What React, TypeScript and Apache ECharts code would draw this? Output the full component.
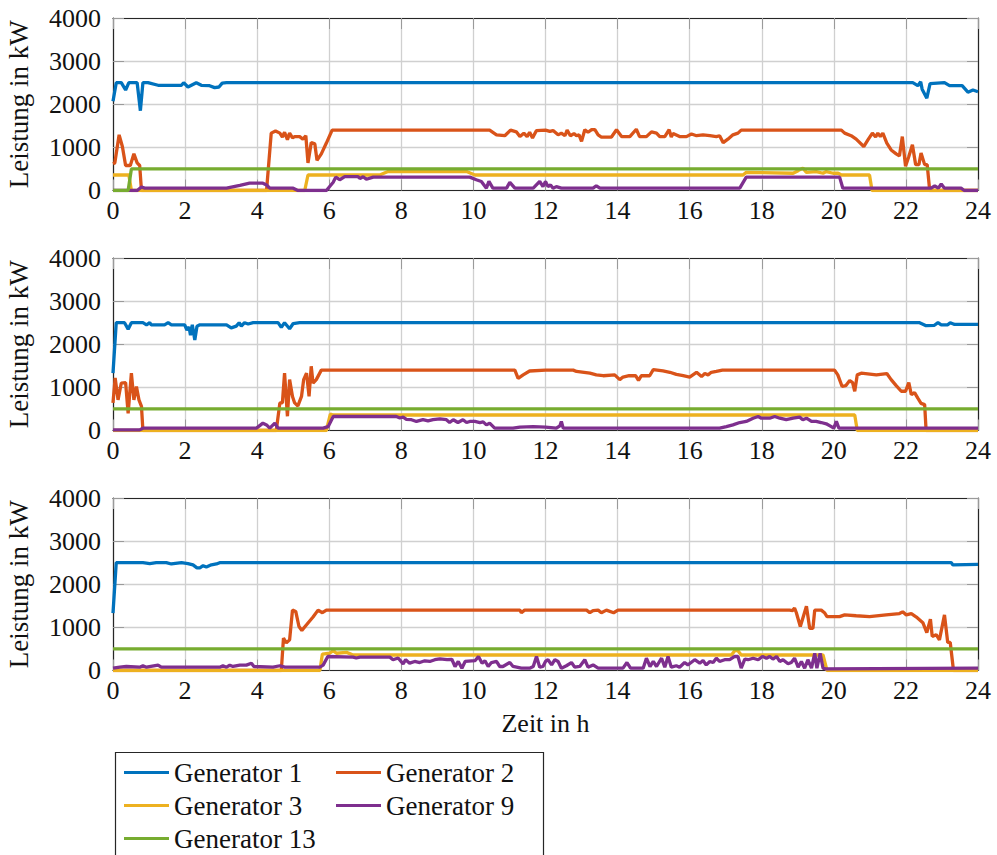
import React, { useEffect, useRef } from "react";
import * as echarts from "echarts";

// ---------- data: [hour, kW] ----------
const hourTicks = [0, 2, 4, 6, 8, 10, 12, 14, 16, 18, 20, 22, 24];
const kwTicks = [0, 1000, 2000, 3000, 4000];
const names = ["Generator 1", "Generator 2", "Generator 3", "Generator 9", "Generator 13"];
const colors = ["#0072BD", "#D95319", "#EDB120", "#7E2F8E", "#77AC30"];
const legendCol1 = ["Generator 1", "Generator 3", "Generator 13"];
const legendCol2 = ["Generator 2", "Generator 9"];

// Panel 1
const p1G1 = [[0,2070],[0.09,2500],[0.23,2500],[0.35,2330],[0.44,2500],[0.67,2500],[0.76,1850],[0.83,2500],[0.97,2500],[1.25,2440],[1.9,2440],[1.96,2500],[2.08,2400],[2.31,2500],[2.45,2440],[2.68,2430],[2.82,2385],[2.94,2400],[3.03,2490],[3.15,2500],[22.19,2500],[22.33,2430],[22.41,2520],[22.45,2350],[22.58,2140],[22.67,2480],[23.07,2500],[23.21,2430],[23.56,2430],[23.72,2280],[23.86,2330],[24,2290]];
const p1G2 = [[0,620],[0.05,640],[0.17,1290],[0.26,1020],[0.35,580],[0.48,580],[0.58,850],[0.67,640],[0.74,580],[0.79,0],[4.26,0],[4.39,1330],[4.51,1380],[4.63,1330],[4.7,1240],[4.76,1350],[4.84,1180],[4.9,1330],[4.98,1220],[5.04,1250],[5.18,1250],[5.27,1190],[5.35,1270],[5.41,640],[5.5,1110],[5.6,1080],[5.66,700],[5.78,850],[5.92,1100],[6.08,1400],[10.45,1400],[10.64,1290],[10.87,1270],[11.03,1400],[11.19,1360],[11.29,1250],[11.4,1330],[11.49,1250],[11.56,1350],[11.64,1220],[11.75,1390],[12.0,1400],[12.12,1370],[12.21,1390],[12.35,1290],[12.44,1330],[12.54,1270],[12.6,1400],[12.69,1270],[12.79,1320],[12.86,1270],[12.93,1290],[13.0,1140],[13.09,1410],[13.18,1350],[13.28,1410],[13.37,1410],[13.46,1290],[13.55,1240],[13.83,1240],[13.97,1410],[14.11,1250],[14.34,1250],[14.52,1420],[14.61,1250],[14.8,1250],[14.94,1360],[15.08,1330],[15.17,1250],[15.31,1250],[15.43,1410],[15.49,1240],[15.54,1320],[15.72,1250],[15.91,1250],[16.05,1310],[16.19,1270],[16.37,1290],[16.56,1270],[16.74,1250],[16.83,1270],[16.93,1110],[17.06,1190],[17.2,1290],[17.34,1330],[17.43,1400],[20.21,1400],[20.3,1330],[20.48,1270],[20.62,1190],[20.83,1020],[20.95,1180],[21.07,1330],[21.16,1240],[21.22,1330],[21.29,1250],[21.36,1330],[21.47,1100],[21.59,940],[21.73,850],[21.82,800],[21.9,1250],[21.99,560],[22.08,790],[22.18,1060],[22.27,600],[22.36,600],[22.42,870],[22.52,600],[22.59,600],[22.66,0],[24,0]];
const p1G3 = [[0,360],[0.44,360],[0.51,0],[5.32,0],[5.41,360],[7.4,360],[7.63,440],[9.81,440],[10.04,360],[17.48,360],[17.57,420],[18.87,400],[19.01,460],[19.14,520],[19.24,420],[19.51,440],[19.7,400],[19.79,440],[19.98,400],[20.12,400],[20.21,360],[20.99,360],[21.06,0],[24,0]];
const p1G9 = [[0,0],[0.67,0],[0.79,80],[0.88,54],[3.15,54],[3.52,120],[3.79,170],[4.16,170],[4.26,130],[4.35,54],[5.0,54],[5.13,0],[5.92,0],[6.11,190],[6.18,310],[6.29,250],[6.43,320],[6.8,320],[6.85,280],[6.94,320],[7.03,260],[7.22,310],[9.9,310],[10.08,250],[10.22,210],[10.36,54],[10.43,210],[10.54,54],[10.92,54],[11.01,190],[11.15,54],[11.66,54],[11.84,210],[11.93,90],[12.0,210],[12.07,90],[12.14,130],[12.21,54],[12.3,90],[12.44,54],[13.32,54],[13.41,110],[13.51,54],[17.39,54],[17.57,310],[20.16,310],[20.25,54],[22.7,54],[22.8,110],[22.9,54],[22.98,150],[23.07,54],[23.53,54],[23.62,0],[24,0]];
const p1G13 = [[0,0],[0.42,0],[0.51,500],[24,500]];

// Panel 2
const p2G1 = [[0,1330],[0.09,2500],[0.32,2500],[0.42,2350],[0.51,2500],[0.83,2500],[0.93,2450],[1.02,2500],[1.06,2450],[1.43,2450],[1.53,2500],[1.62,2450],[1.99,2450],[2.05,2330],[2.11,2400],[2.15,2210],[2.2,2450],[2.27,2100],[2.33,2420],[2.41,2450],[3.15,2450],[3.28,2380],[3.42,2420],[3.5,2500],[3.56,2420],[3.65,2500],[3.75,2470],[3.89,2500],[4.58,2500],[4.67,2390],[4.76,2500],[4.9,2360],[5.0,2480],[5.18,2500],[22.38,2500],[22.56,2430],[22.79,2440],[22.89,2500],[22.98,2450],[23.16,2450],[23.23,2500],[23.35,2460],[24,2460]];
const p2G2 = [[0,640],[0.06,1220],[0.14,710],[0.23,1100],[0.35,1110],[0.42,400],[0.51,1330],[0.58,710],[0.65,1020],[0.72,710],[0.79,560],[0.83,0],[4.53,0],[4.63,640],[4.7,640],[4.76,1330],[4.84,330],[4.9,1180],[4.98,790],[5.04,640],[5.13,570],[5.23,790],[5.29,1180],[5.37,1330],[5.44,790],[5.5,1490],[5.55,1100],[5.64,1180],[5.78,1400],[11.15,1400],[11.24,1210],[11.38,1290],[11.56,1380],[12.0,1400],[12.77,1400],[12.86,1370],[13.23,1330],[13.41,1290],[13.6,1270],[13.92,1290],[14.06,1180],[14.15,1240],[14.32,1270],[14.5,1270],[14.58,1160],[14.66,1270],[14.89,1270],[14.99,1410],[15.26,1380],[15.45,1350],[15.63,1300],[15.82,1270],[16.0,1240],[16.19,1350],[16.33,1250],[16.42,1320],[16.51,1290],[16.6,1350],[16.74,1370],[16.91,1400],[20.02,1400],[20.11,1290],[20.23,1020],[20.33,1040],[20.44,1160],[20.52,1110],[20.58,910],[20.65,1290],[20.76,1330],[21.18,1290],[21.47,1320],[21.59,1180],[21.73,1040],[21.87,910],[21.99,910],[22.08,1110],[22.15,830],[22.24,880],[22.33,750],[22.42,630],[22.52,600],[22.56,0],[24,0]];
const p2G3 = [[0,0],[5.92,0],[6.03,380],[6.11,360],[20.58,360],[20.65,0],[24,0]];
const p2G9 = [[0,15],[0.74,15],[0.83,54],[3.98,54],[4.16,170],[4.26,130],[4.35,54],[4.49,170],[4.58,54],[5.83,54],[5.97,90],[6.11,325],[7.86,325],[7.96,290],[8.05,310],[8.14,260],[8.28,250],[8.42,210],[8.6,250],[8.74,225],[8.88,250],[9.07,270],[9.25,250],[9.34,185],[9.44,250],[9.57,185],[9.71,250],[9.81,185],[9.9,210],[10.04,210],[10.18,185],[10.27,200],[10.36,130],[10.45,170],[10.59,54],[11.1,54],[11.29,80],[11.66,90],[12.0,80],[12.3,54],[12.4,110],[12.44,210],[12.49,54],[16.83,54],[17.02,90],[17.2,130],[17.39,185],[17.57,210],[17.76,285],[17.9,325],[17.99,285],[18.22,285],[18.36,325],[18.5,285],[18.68,250],[18.87,285],[19.05,310],[19.14,250],[19.24,285],[19.38,210],[19.51,210],[19.65,185],[19.79,155],[19.93,90],[20.0,54],[20.07,210],[20.14,54],[24,54]];
const p2G13 = [[0,500],[24,500]];

// Panel 3
const p3G1 = [[0,1330],[0.09,2500],[0.83,2500],[1.02,2480],[1.2,2500],[1.48,2500],[1.62,2470],[1.9,2500],[2.08,2480],[2.22,2450],[2.33,2380],[2.41,2380],[2.5,2430],[2.59,2400],[2.73,2450],[2.87,2470],[2.96,2500],[23.26,2500],[23.3,2450],[24,2460]];
const p3G2 = [[0,0],[4.67,0],[4.73,750],[4.81,640],[4.9,710],[4.98,1400],[5.07,1370],[5.16,1020],[5.24,930],[5.37,1060],[5.55,1240],[5.69,1400],[5.81,1340],[5.92,1400],[11.29,1400],[11.33,1340],[11.42,1400],[13.14,1400],[13.23,1340],[13.32,1390],[13.46,1400],[13.55,1340],[13.69,1400],[13.89,1340],[14.01,1400],[18.77,1400],[18.86,1390],[18.91,1450],[18.96,1340],[19.07,1020],[19.24,1490],[19.33,980],[19.42,980],[19.47,1400],[19.65,1400],[19.74,1340],[19.81,1250],[20.16,1250],[20.3,1290],[20.62,1270],[20.99,1250],[21.45,1290],[21.82,1320],[21.91,1360],[22.01,1290],[22.15,1320],[22.29,1240],[22.47,1110],[22.58,880],[22.68,1190],[22.73,790],[22.84,830],[22.93,710],[23.07,1290],[23.16,650],[23.23,650],[23.32,0],[24,0]];
const p3G3 = [[0,0],[5.74,0],[5.81,380],[6.01,400],[6.11,460],[6.2,400],[6.48,420],[6.66,360],[17.16,360],[17.25,460],[17.34,460],[17.43,360],[19.7,360],[19.81,0],[24,0]];
const p3G9 = [[0,54],[0.19,77],[0.37,93],[0.74,77],[0.83,110],[0.93,77],[1.25,124],[1.34,77],[2.96,77],[3.05,110],[3.15,77],[3.24,124],[3.33,93],[3.52,124],[3.7,124],[3.84,170],[3.91,93],[4.44,77],[4.63,110],[4.77,77],[5.74,77],[5.83,124],[5.96,325],[6.66,310],[6.75,290],[6.85,310],[7.68,310],[7.77,250],[7.91,290],[8.05,155],[8.12,250],[8.23,170],[8.37,210],[8.51,185],[8.65,225],[8.79,210],[8.93,250],[9.07,270],[9.27,250],[9.4,260],[9.49,93],[9.58,210],[9.68,54],[9.77,210],[10.05,230],[10.14,325],[10.24,170],[10.32,225],[10.41,93],[10.5,185],[10.64,210],[10.73,93],[10.82,93],[11.01,185],[11.1,93],[11.33,54],[11.56,54],[11.66,93],[11.75,325],[11.84,77],[11.93,93],[12.0,210],[12.07,250],[12.17,130],[12.26,250],[12.35,210],[12.44,54],[12.58,110],[12.72,185],[12.81,77],[12.95,93],[13.09,250],[13.18,77],[13.32,130],[13.46,54],[14.15,54],[14.26,185],[14.36,54],[14.71,54],[14.8,285],[14.9,93],[14.99,210],[15.08,93],[15.22,285],[15.31,77],[15.4,325],[15.49,77],[15.63,110],[15.72,77],[15.86,185],[15.95,130],[16.04,185],[16.14,250],[16.28,170],[16.37,230],[16.46,130],[16.56,210],[16.65,185],[16.74,285],[16.83,210],[16.97,250],[17.11,250],[17.25,325],[17.34,325],[17.43,54],[17.53,265],[17.62,250],[17.76,285],[17.9,250],[18.02,325],[18.13,285],[18.22,325],[18.31,265],[18.41,325],[18.5,210],[18.59,250],[18.73,155],[18.82,185],[18.91,285],[19.01,77],[19.1,210],[19.19,54],[19.28,250],[19.38,54],[19.47,400],[19.53,54],[19.62,400],[19.7,54],[19.77,40],[24,54]];
const p3G13 = [[0,500],[24,500]];

const panelData = [
  [p1G1, p1G2, p1G3, p1G9, p1G13],
  [p2G1, p2G2, p2G3, p2G9, p2G13],
  [p3G1, p3G2, p3G3, p3G9, p3G13],
];

const FONT = "Liberation Serif";
const gridTops = [18, 258, 498];
const gridHeight = 172.5;

function buildOption() {
  const grid: any[] = [];
  const xAxis: any[] = [];
  const yAxis: any[] = [];
  const series: any[] = [];
  const frame = { show: true, onZero: false, lineStyle: { color: "#262626", width: 1.2 } };
  const tick = { show: true, inside: true, length: 11, lineStyle: { color: "#9a9a9a", width: 1 } };
  const split = { show: true, lineStyle: { color: "#d0d0d0", width: 1.3 } };
  const label = { fontFamily: FONT, fontSize: 26, color: "#111", formatter: (v: number) => String(v) };
  panelData.forEach((lines, i) => {
    grid.push({
      left: 113, right: 19, top: gridTops[i], height: gridHeight,
      containLabel: false, outerBoundsMode: "none",
    });
    xAxis.push({
      gridIndex: i, type: "value", min: hourTicks[0], max: hourTicks[hourTicks.length - 1], interval: 2,
      position: "bottom", axisLine: frame, axisTick: tick, splitLine: split,
      axisLabel: { ...label, margin: 7 },
      name: i === 2 ? "Zeit in h" : "", nameLocation: "middle", nameGap: 40,
      nameTextStyle: { fontFamily: FONT, fontSize: 26, color: "#111" },
    });
    xAxis.push({
      gridIndex: i, type: "value", min: 0, max: 24, interval: 2, position: "top",
      axisLine: frame, axisTick: tick, splitLine: { show: false }, axisLabel: { show: false },
    });
    yAxis.push({
      gridIndex: i, type: "value", min: kwTicks[0], max: kwTicks[kwTicks.length - 1], interval: 1000,
      position: "left", axisLine: frame, axisTick: tick, splitLine: split,
      axisLabel: { ...label, margin: 12 },
      name: "Leistung in kW", nameLocation: "middle", nameGap: 81,
      nameTextStyle: { fontFamily: FONT, fontSize: 27, color: "#111" },
    });
    yAxis.push({
      gridIndex: i, type: "value", min: 0, max: 4000, interval: 1000, position: "right",
      axisLine: frame, axisTick: tick, splitLine: { show: false }, axisLabel: { show: false },
    });
    lines.forEach((data, k) => {
      series.push({
        name: names[k], type: "line", xAxisIndex: 2 * i, yAxisIndex: 2 * i,
        data, showSymbol: false, symbol: "none", clip: true,
        lineStyle: { color: colors[k], width: 3.3 }, itemStyle: { color: colors[k] },
      });
    });
  });
  const legendBase = {
    top: 759, orient: "vertical", padding: 0, itemGap: 6, itemWidth: 45, itemHeight: 3,
    icon: "rect", selectedMode: false,
    textStyle: { fontFamily: FONT, fontSize: 27, color: "#111" },
  };
  return {
    animation: false,
    backgroundColor: "#fff",
    grid, xAxis, yAxis, series,
    legend: [
      { ...legendBase, data: legendCol1, left: 124 },
      { ...legendBase, data: legendCol2, left: 336 },
    ],
    graphic: [
      {
        type: "rect", left: 113, top: 750, silent: true,
        shape: { width: 428, height: 130 },
        style: { fill: "none", stroke: "#262626", lineWidth: 1.2 },
      },
    ],
  };
}

export default function App() {
  const ref = useRef<HTMLDivElement>(null);
  useEffect(() => {
    document.body.style.margin = "0";
    const chart = echarts.init(ref.current!, null, { renderer: "svg" });
    chart.setOption(buildOption() as any);
    return () => chart.dispose();
  }, []);
  return <div ref={ref} style={{ width: 997, height: 855 }} />;
}
